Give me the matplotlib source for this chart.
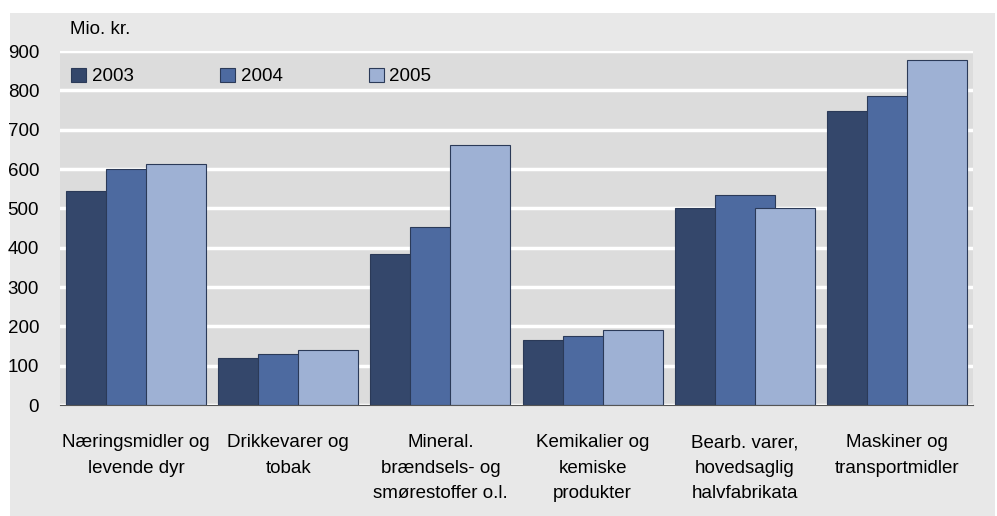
import numpy as np
import matplotlib
matplotlib.use('Agg')
import matplotlib.pyplot as plt
from matplotlib.patches import Rectangle

categories = ['Næringsmidler og\nlevende dyr', 'Drikkevarer og\ntobak',
              'Mineral.\nbrændsels- og\nsmørestoffer o.l.', 'Kemikalier og\nkemiske\nprodukter',
              'Bearb. varer,\nhovedsaglig\nhalvfabrikata', 'Maskiner og\ntransportmidler']
years = ['2003', '2004', '2005']
v2003 = [544, 119, 383, 164, 500, 747]
v2004 = [600, 130, 452, 175, 533, 785]
v2005 = [612, 139, 660, 191, 502, 876]
yticks = [0, 100, 200, 300, 400, 500, 600, 700, 800, 900]

colors = ['#34476b', '#4d6aa0', '#9eb1d4']
plt.rcParams['font.family'] = ['Liberation Sans', 'DejaVu Sans']

W, H = 997, 516
fig = plt.figure(figsize=(W / 100, H / 100), dpi=100)
fig.patch.set_facecolor('white')

# grey panel behind everything
bg = fig.add_axes([0, 0, 1, 1], zorder=-1)
bg.axis('off')
bg.set_xlim(0, W)
bg.set_ylim(H, 0)
bg.add_patch(Rectangle((10, 13), 985, H - 13, facecolor='#e8e8e8', edgecolor='none'))

ax = fig.add_axes([60 / W, 1 - 405 / H, 913 / W, 354 / H])
ax.set_facecolor('#dcdcdc')

x = np.arange(len(categories))
width = 0.395
step = 0.263
for i, (vals, c) in enumerate(zip([v2003, v2004, v2005], colors)):
    ax.bar(x + (i - 1) * step, vals, width, color=c, edgecolor='#2b3a58',
           linewidth=0.8, label=years[i], zorder=3 + i)

ax.set_xlim(-0.5, len(categories) - 0.5)
ax.set_ylim(0, 900)
ax.set_yticks(yticks)
ax.tick_params(axis='y', length=0, labelsize=13.5, pad=15)
ax.tick_params(axis='x', length=0, labelsize=13.5, pad=21)
ax.set_xticks(x)
ax.set_xticklabels(categories, linespacing=1.65)
ax.grid(axis='y', color='white', linewidth=2.5, zorder=1)
ax.set_axisbelow(True)
for s in ['top', 'right', 'left']:
    ax.spines[s].set_visible(False)
ax.spines['bottom'].set_color('#555555')
ax.spines['bottom'].set_linewidth(0.8)
ax.spines['bottom'].set_zorder(10)

fig.text(70 / W, 1 - 30 / H, 'Mio. kr.', fontsize=13.5, va='center', ha='left')

leg = ax.legend(loc='upper left', bbox_to_anchor=(0.0, 0.985), ncol=3, frameon=False,
                fontsize=13.5, handlelength=0.8, handleheight=0.8, handletextpad=0.3,
                columnspacing=4.6, borderaxespad=0.2)

fig.savefig('out.png', dpi=100, facecolor=fig.get_facecolor())
